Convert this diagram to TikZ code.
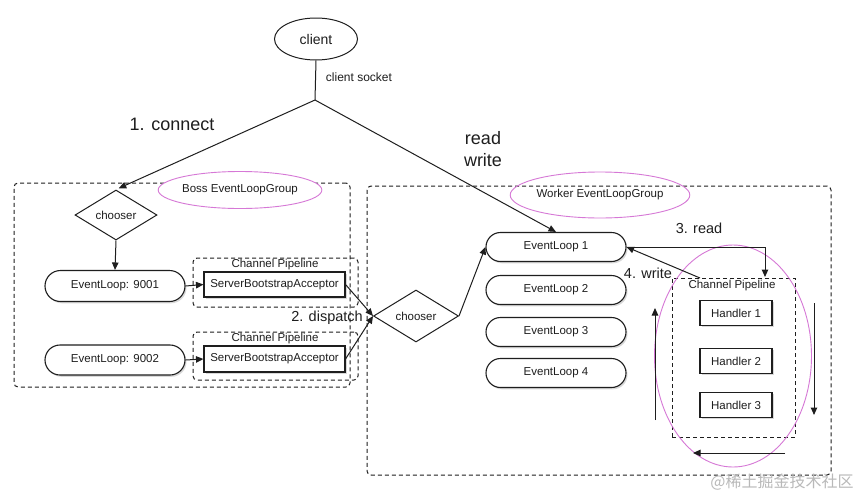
\documentclass[tikz,border=0pt]{standalone}
\usepackage{fontspec}
\setmainfont{Liberation Sans}
\newfontfamily\cjkfont{Noto Sans CJK SC}
\usetikzlibrary{shapes.geometric,shapes.misc,arrows.meta,shadows}
\definecolor{pinkline}{RGB}{214,120,214}
\definecolor{ink}{RGB}{30,30,30}
\tikzset{
  every node/.style={inner sep=0pt, text=ink},
  small/.style={font=\fontsize{11.5}{13}\selectfont},
  ln/.style={draw=ink, line width=1pt},
  arr/.style={ln, -{Triangle[length=7.5pt,width=6.5pt]}},
  groupbox/.style={draw=ink, line width=1pt, dash pattern=on 4pt off 3pt, rounded corners=4pt, rectangle},
  grouplabel/.style={draw=pinkline, line width=0.9pt, ellipse, small},
  chooserbox/.style={draw=ink, line width=1pt, diamond, small},
  loopbox/.style={draw=ink, line width=1.1pt, rounded rectangle, fill=white, small,
    drop shadow={opacity=0.3, shadow xshift=1.5pt, shadow yshift=-1.8pt}},
  accbox/.style={draw=ink, line width=1.1pt, rectangle, fill=white, small,
    drop shadow={opacity=0.3, shadow xshift=1.5pt, shadow yshift=-1.8pt}},
  biglabel/.style={font=\fontsize{18}{22}\selectfont},
  midlabel/.style={font=\fontsize{14.5}{17}\selectfont},
}
\begin{document}
\begin{tikzpicture}[x=1pt,y=-1pt]
\useasboundingbox[fill=white] (0,0) rectangle (867,496);

% client
\node[draw=ink, line width=1pt, ellipse, minimum width=83pt, minimum height=42pt,
      font=\fontsize{14}{16}\selectfont] (client) at (316,39) {client};
\coordinate (J) at (315,100);
\node[font=\fontsize{12}{14}\selectfont] (sock) at (359,77) {client socket};
\node[biglabel] (conn) at (172,124) {1. connect};
\node[biglabel, align=center] (rw) at (483,149) {read\\write};

% boss group
\node[groupbox, minimum width=336pt, minimum height=204pt] (boss) at (182,285) {};
\node[grouplabel, minimum width=130pt, minimum height=37pt, fill=white] (bosslbl) at (240,190) {Boss EventLoopGroup};
\node[chooserbox, aspect=1.64, minimum width=82pt, minimum height=50pt] (bch) at (116,215) {chooser};
\node[loopbox, minimum width=140pt, minimum height=31pt] (el9001) at (115,286) {EventLoop: 9001};
\node[loopbox, minimum width=140pt, minimum height=30pt] (el9002) at (115,360) {EventLoop: 9002};
\node[groupbox, minimum width=165pt, minimum height=49pt] (cp1) at (275.5,282.5) {};
\node[small] (cp1lbl) at (275,265) {Channel Pipeline};
\node[accbox, minimum width=141pt, minimum height=25pt] (sba1) at (274.5,284.5) {ServerBootstrapAcceptor};
\node[groupbox, minimum width=165pt, minimum height=48pt] (cp2) at (275.5,356) {};
\node[small] (cp2lbl) at (275,339) {Channel Pipeline};
\node[accbox, minimum width=141pt, minimum height=26pt] (sba2) at (274.5,359) {ServerBootstrapAcceptor};

% worker group
\node[groupbox, minimum width=464pt, minimum height=289pt] (worker) at (599,330.5) {};
\node[grouplabel, minimum width=140pt, minimum height=46pt] (workerlbl) at (600,195) {Worker EventLoopGroup};
\node[chooserbox, aspect=1.63, minimum width=85pt, minimum height=52pt, fill=white] (wch) at (416,316) {chooser};
\node[midlabel] (disp) at (327,318) {2. dispatch};
\node[loopbox, minimum width=140pt, minimum height=29pt] (el1) at (556,247) {EventLoop 1};
\node[loopbox, minimum width=140pt, minimum height=29pt] (el2) at (556,290) {EventLoop 2};
\node[loopbox, minimum width=140pt, minimum height=29pt] (el3) at (556,332) {EventLoop 3};
\node[loopbox, minimum width=140pt, minimum height=29pt] (el4) at (556,373) {EventLoop 4};

\node[groupbox, rounded corners=0pt, minimum width=123pt, minimum height=159pt] (wcp) at (733.5,357.5) {};
\node[small] (wcplbl) at (732,286) {Channel Pipeline};
\node[accbox, minimum width=72pt, minimum height=25pt] (h1) at (736,313) {Handler 1};
\node[accbox, minimum width=72pt, minimum height=25pt] (h2) at (736,361) {Handler 2};
\node[accbox, minimum width=72pt, minimum height=25pt] (h3) at (736,405) {Handler 3};
\node[draw=pinkline, line width=0.9pt, ellipse, minimum width=157pt, minimum height=222pt] (pipeell) at (733,356) {};

\node[midlabel] (rdlbl) at (699,228) {3. read};
\node[midlabel] (wrlbl) at (648,273) {4. write};

% connectors
\draw[ln] (client.south) -- (J);
\draw[arr, shorten >=3pt] (J) -- (bch.north);
\draw[arr] (J) -- (el1.north);
\draw[arr] (bch.south) -- (el9001.north);
\draw[arr] (el9001.east) -- (sba1.west);
\draw[arr] (el9002.east) -- (sba2.west);
\draw[arr] (sba1.east) -- (wch.west);
\draw[arr] (sba2.east) -- (wch.west);
\draw[arr] (wch.east) -- (el1.west);

\coordinate (rdend) at (765,277);
\coordinate (wrstart) at (700,278);
\draw[arr] (el1.east) -| (rdend);
\draw[arr] (wrstart) -- (el1.east);

\coordinate (upA) at (655,420);
\coordinate (upB) at (655,308);
\coordinate (dnA) at (814,303);
\coordinate (dnB) at (814,415);
\coordinate (lfA) at (785,453);
\coordinate (lfB) at (693,453);
\draw[arr] (upA) -- (upB);
\draw[arr] (dnA) -- (dnB);
\draw[arr] (lfA) -- (lfB);

% watermark
\node[font=\cjkfont\fontsize{16}{18}\selectfont, text=gray!55] (wm) at (782,482) {@稀土掘金技术社区};
\end{tikzpicture}
\end{document}
